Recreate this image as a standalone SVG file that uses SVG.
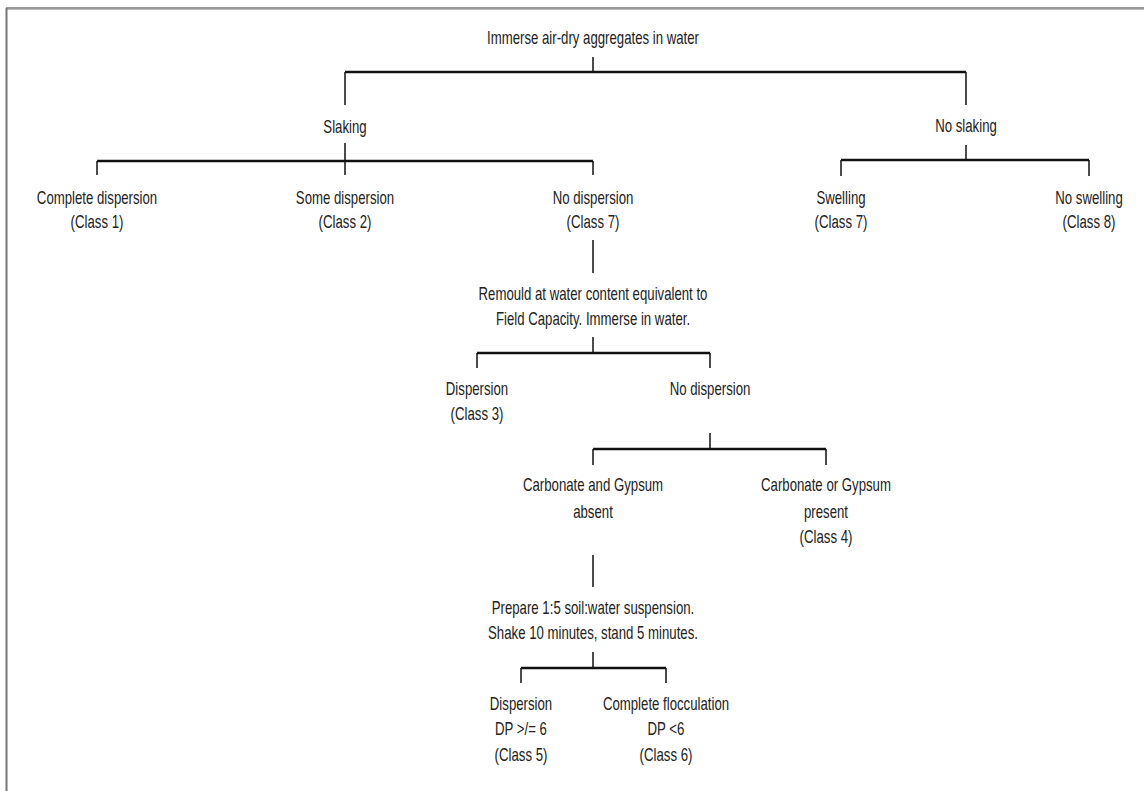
<svg xmlns="http://www.w3.org/2000/svg" width="1144" height="791" viewBox="0 0 1144 791">
<style>
  text { font-family: "Liberation Sans", Arial, sans-serif; font-size: 18.5px; fill: #222; text-anchor: middle; }
  .bar { stroke: #111; stroke-width: 2.5; fill: none; }
  .v { stroke: #111; stroke-width: 1.5; fill: none; }
</style>
<rect width="1144" height="791" fill="#fff"/>
<g id="frame">
  <line x1="6" y1="8" x2="1144" y2="8" stroke="#333" stroke-width="1.2"/>
  <line x1="6" y1="9.5" x2="1144" y2="9.5" stroke="#bbb" stroke-width="1"/>
  <line x1="6.5" y1="8" x2="6.5" y2="791" stroke="#777" stroke-width="2"/>
</g>
<g id="connectors">
  <path class="v" d="M593 57V72"/>
  <path class="bar" d="M345 72H966"/>
  <path class="v" d="M345 72V105M966 72V105"/>
  <path class="v" d="M345 143V175M966 145V160"/>
  <path class="bar" d="M97 161H593M841 160H1089"/>
  <path class="v" d="M97 161V175M593 161V175M841 160V176M1089 160V176"/>
  <path class="v" d="M593 240V273"/>
  <path class="v" d="M593 337V353"/>
  <path class="bar" d="M477 353H710"/>
  <path class="v" d="M477 353V368M710 353V368"/>
  <path class="v" d="M710 433V449"/>
  <path class="bar" d="M593 449H826"/>
  <path class="v" d="M593 449V465M826 449V465"/>
  <path class="v" d="M593 555V587"/>
  <path class="v" d="M593 652V668"/>
  <path class="bar" d="M521 668H666"/>
  <path class="v" d="M521 668V683M666 668V683"/>
</g>
<g id="n-root"><text transform="matrix(0.714 0 0 1 593 44)">Immerse air-dry aggregates in water</text></g>
<g id="n-slaking"><text transform="matrix(0.714 0 0 1 345 133)">Slaking</text></g>
<g id="n-noslaking"><text transform="matrix(0.714 0 0 1 966 132)">No slaking</text></g>
<g id="n-class1"><text transform="matrix(0.714 0 0 1 97 204)">Complete dispersion<tspan x="0" y="24">(Class 1)</tspan></text></g>
<g id="n-class2"><text transform="matrix(0.714 0 0 1 345 204)">Some dispersion<tspan x="0" y="24">(Class 2)</tspan></text></g>
<g id="n-nodisp1"><text transform="matrix(0.714 0 0 1 593 204)">No dispersion<tspan x="0" y="24">(Class 7)</tspan></text></g>
<g id="n-swelling"><text transform="matrix(0.714 0 0 1 841 204)">Swelling<tspan x="0" y="24">(Class 7)</tspan></text></g>
<g id="n-noswelling"><text transform="matrix(0.714 0 0 1 1089 204)">No swelling<tspan x="0" y="24">(Class 8)</tspan></text></g>
<g id="n-remould"><text transform="matrix(0.714 0 0 1 593 300)">Remould at water content equivalent to<tspan x="0" y="25">Field Capacity. Immerse in water.</tspan></text></g>
<g id="n-class3"><text transform="matrix(0.714 0 0 1 477 395)">Dispersion<tspan x="0" y="25">(Class 3)</tspan></text></g>
<g id="n-nodisp2"><text transform="matrix(0.714 0 0 1 710 395)">No dispersion</text></g>
<g id="n-absent"><text transform="matrix(0.714 0 0 1 593 491)">Carbonate and Gypsum<tspan x="0" y="27">absent</tspan></text></g>
<g id="n-class4"><text transform="matrix(0.714 0 0 1 826 491)">Carbonate or Gypsum<tspan x="0" y="27">present</tspan><tspan x="0" y="52">(Class 4)</tspan></text></g>
<g id="n-prepare"><text transform="matrix(0.714 0 0 1 593 614)">Prepare 1:5 soil:water suspension.<tspan x="0" y="25">Shake 10 minutes, stand 5 minutes.</tspan></text></g>
<g id="n-class5"><text transform="matrix(0.714 0 0 1 521 710)">Dispersion<tspan x="0" y="25">DP &gt;/= 6</tspan><tspan x="0" y="51">(Class 5)</tspan></text></g>
<g id="n-class6"><text transform="matrix(0.714 0 0 1 666 710)">Complete flocculation<tspan x="0" y="25">DP &lt;6</tspan><tspan x="0" y="51">(Class 6)</tspan></text></g>
</svg>
